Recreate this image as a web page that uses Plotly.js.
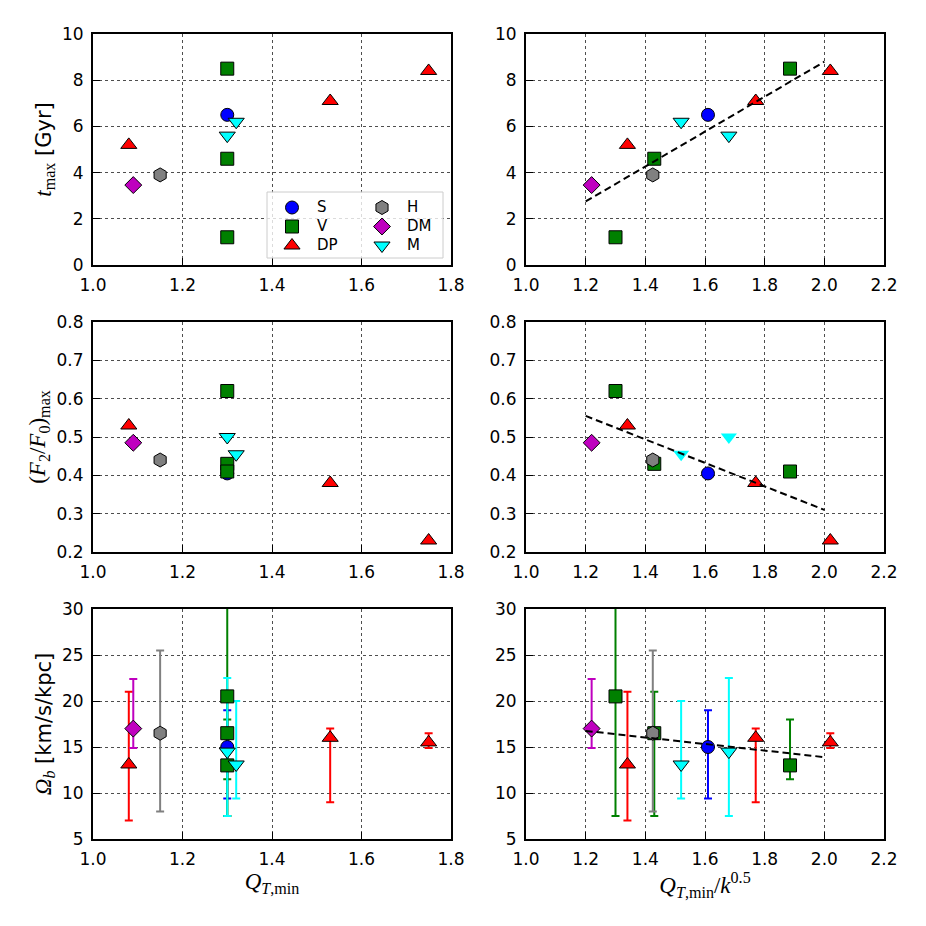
<!DOCTYPE html>
<html><head><meta charset="utf-8">
<script src="https://cdn.plot.ly/plotly-3.0.1.min.js"></script>
<style>html,body{margin:0;padding:0;background:#fff}</style>
</head><body><div id="chart" style="width:926px;height:926px"></div>
<script>
// ---------- data ----------
const groupNames = ['S', 'V', 'DP', 'H', 'DM', 'M'];

const S_qMin = [1.30],             S_qK = [1.61];
const S_tMax = [6.5],              S_f2 = [0.405];
const S_om = [15.0],               S_omUp = [4.0],  S_omDn = [5.6];

const V_qMin = [1.30, 1.30, 1.30], V_qK = [1.30, 1.43, 1.885];
const V_tMax = [1.2, 4.6, 8.5],    V_f2 = [0.62, 0.43, 0.41];
const V_om = [20.5, 16.5, 13.0],   V_omUp = [12.0, 4.5, 5.0], V_omDn = [13.0, 9.0, 1.5];

const DP_qMin = [1.08, 1.53, 1.75], DP_qK = [1.34, 1.77, 2.02];
const DP_tMax = [5.2, 7.1, 8.4],    DP_f2 = [0.53, 0.38, 0.23];
const DP_om = [13.1, 16.0, 15.5],   DP_omUp = [7.9, 1.0, 1.0], DP_omDn = [6.1, 7.0, 0.6];

const H_qMin = [1.15],  H_qK = [1.425];
const H_tMax = [3.9],   H_f2 = [0.44];
const H_om = [16.5],    H_omUp = [9.0], H_omDn = [8.5];

const DM_qMin = [1.09], DM_qK = [1.22];
const DM_tMax = [3.46], DM_f2 = [0.485];
const DM_om = [17.0],   DM_omUp = [5.4], DM_omDn = [2.1];

const M_qMin = [1.30, 1.32], M_qK = [1.68, 1.52];
const M_tMax = [5.6, 6.2],   M_f2 = [0.50, 0.455];
const M_om = [14.5, 13.1],   M_omUp = [8.0, 6.9], M_omDn = [7.0, 3.7];

// linear fits (right column)
const fitX = [1.2, 2.0];
const fitT = [2.75, 8.8];
const fitF = [0.555, 0.31];
const fitOm = [16.75, 13.9];

// axis ticks
const xTicksLeft = [1.0, 1.2, 1.4, 1.6, 1.8];
const xTicksRight = [1.0, 1.2, 1.4, 1.6, 1.8, 2.0, 2.2];
const yTicksT = [0, 2, 4, 6, 8, 10];
const yTicksF = [0.2, 0.3, 0.4, 0.5, 0.6, 0.7, 0.8];
const yTicksOm = [5, 10, 15, 20, 25, 30];

// ---------- styles ----------
const groups = [
  {name:'S',  color:'#0000ff', symbol:'circle',        size:13, qMin:S_qMin,  qK:S_qK,  t:S_tMax,  f:S_f2,  om:S_om,  up:S_omUp,  dn:S_omDn,  legend:'legend'},
  {name:'V',  color:'#008000', symbol:'square',        size:13, qMin:V_qMin,  qK:V_qK,  t:V_tMax,  f:V_f2,  om:V_om,  up:V_omUp,  dn:V_omDn,  legend:'legend'},
  {name:'DP', color:'#ff0000', symbol:'triangle-up',   size:14, qMin:DP_qMin, qK:DP_qK, t:DP_tMax, f:DP_f2, om:DP_om, up:DP_omUp, dn:DP_omDn, legend:'legend'},
  {name:'H',  color:'#808080', symbol:'hexagon',       size:14, qMin:H_qMin,  qK:H_qK,  t:H_tMax,  f:H_f2,  om:H_om,  up:H_omUp,  dn:H_omDn,  legend:'legend2'},
  {name:'DM', color:'#bf00bf', symbol:'diamond',       size:13, qMin:DM_qMin, qK:DM_qK, t:DM_tMax, f:DM_f2, om:DM_om, up:DM_omUp, dn:DM_omDn, legend:'legend2'},
  {name:'M',  color:'#00ffff', symbol:'triangle-down', size:14, qMin:M_qMin,  qK:M_qK,  t:M_tMax,  f:M_f2,  om:M_om,  up:M_omUp,  dn:M_omDn,  legend:'legend2'}
];

const traces = [];
function markerTrace(g, xs, ys, xa, ya, showLegend, noEdge) {
  return {
    type:'scatter', mode:'markers', x:xs, y:ys, xaxis:xa, yaxis:ya,
    name:'<span style="font-size:15px">' + g.name + '</span>', legend:g.legend, showlegend:showLegend, hoverinfo:'skip',
    marker:{symbol:g.symbol, size:g.size, color:g.color,
            line:{color:'#000', width: noEdge ? 0 : 1}}
  };
}
function errTrace(g, xs, xa, ya) {
  return {
    type:'scatter', mode:'markers', x:xs, y:g.om, xaxis:xa, yaxis:ya,
    showlegend:false, hoverinfo:'skip',
    marker:{size:1, opacity:0, color:g.color},
    error_y:{type:'data', symmetric:false, array:g.up, arrayminus:g.dn,
             color:g.color, thickness:2, width:4}
  };
}
function fitTrace(ys, xa, ya) {
  return {type:'scatter', mode:'lines', x:fitX, y:ys, xaxis:xa, yaxis:ya,
          showlegend:false, hoverinfo:'skip',
          line:{color:'#000', width:2, dash:'7px,4px'}};
}

// top row
groups.forEach(g => traces.push(markerTrace(g, g.qMin, g.t, 'x', 'y', true, false)));
groups.forEach(g => traces.push(markerTrace(g, g.qK, g.t, 'x2', 'y2', false, false)));
traces.push(fitTrace(fitT, 'x2', 'y2'));
// middle row
groups.forEach(g => traces.push(markerTrace(g, g.qMin, g.f, 'x3', 'y3', false, false)));
groups.forEach(g => traces.push(markerTrace(g, g.qK, g.f, 'x4', 'y4', false, g.name === 'M')));
traces.push(fitTrace(fitF, 'x4', 'y4'));
// bottom row
groups.forEach(g => traces.push(errTrace(g, g.qMin, 'x5', 'y5')));
groups.forEach(g => traces.push(markerTrace(g, g.qMin, g.om, 'x5', 'y5', false, false)));
groups.forEach(g => traces.push(errTrace(g, g.qK, 'x6', 'y6')));
groups.forEach(g => traces.push(markerTrace(g, g.qK, g.om, 'x6', 'y6', false, false)));
traces.push(fitTrace(fitOm, 'x6', 'y6'));

// ---------- layout ----------
const W = 926;
const colL = [93 / W, 451 / W], colR = [526 / W, 884 / W];
const rowT = [1 - 265 / W, 1 - 34 / W], rowM = [1 - 552 / W, 1 - 322 / W], rowB = [1 - 839 / W, 1 - 609 / W];

const tickFont = {family:'DejaVu Sans', size:17, color:'#000'};
const common = {
  showline:true, mirror:true, linecolor:'#000', linewidth:2,
  ticks:'inside', ticklen:7, tickwidth:1, tickcolor:'#000',
  showgrid:true, gridcolor:'#222', gridwidth:0.8, griddash:'3px,3px',
  zeroline:false, tickfont:tickFont, fixedrange:true, automargin:false
};
function xa(domain, anchor, range, ticks, title) {
  const o = Object.assign({}, common, {domain, anchor, range, tickmode:'array', tickvals:ticks,
    ticktext:ticks.map(v => v.toFixed(1)), ticklabelstandoff:4});
  if (title) o.title = {text:title, font:{family:'Liberation Serif, DejaVu Serif', size:23, color:'#000'}, standoff:3};
  return o;
}
function ya(domain, anchor, range, ticks, fmt, title) {
  const o = Object.assign({}, common, {domain, anchor, range, tickmode:'array', tickvals:ticks,
    ticktext:ticks.map(fmt), ticklabelstandoff:4});
  if (title) o.title = {text:title, font:{family:'DejaVu Sans', size:21, color:'#000'}, standoff:5};
  return o;
}
const fInt = v => String(v), f1 = v => v.toFixed(1);
const serif = 'font-family:Liberation Serif,DejaVu Serif;font-size:23px';

const legendFont = {family:'DejaVu Sans', size:11, color:'#000'};
const layout = {
  width:926, height:926, margin:{l:0, r:0, t:0, b:0},
  paper_bgcolor:'#fff', plot_bgcolor:'#fff', showlegend:true,
  xaxis:  xa(colL, 'y',  [1.0, 1.8], xTicksLeft),
  yaxis:  ya(rowT, 'x',  [0, 10], yTicksT, fInt, '<span style="' + serif + '"><i>t</i><sub>max</sub></span> [Gyr]'),
  xaxis2: xa(colR, 'y2', [1.0, 2.2], xTicksRight),
  yaxis2: ya(rowT, 'x2', [0, 10], yTicksT, fInt),
  xaxis3: xa(colL, 'y3', [1.0, 1.8], xTicksLeft),
  yaxis3: ya(rowM, 'x3', [0.2, 0.8], yTicksF, f1, '<span style="' + serif + '">(<i>F</i><sub>2</sub>/<i>F</i><sub>0</sub>)<sub>max</sub></span>'),
  xaxis4: xa(colR, 'y4', [1.0, 2.2], xTicksRight),
  yaxis4: ya(rowM, 'x4', [0.2, 0.8], yTicksF, f1),
  xaxis5: xa(colL, 'y5', [1.0, 1.8], xTicksLeft, '<i>Q</i><sub><i>T</i>,min</sub>'),
  yaxis5: ya(rowB, 'x5', [5, 30], yTicksOm, fInt, '<span style="' + serif + '"><i>Ω</i><sub><i>b</i></sub></span> [km/s/kpc]'),
  xaxis6: xa(colR, 'y6', [1.0, 2.2], xTicksRight, '<i>Q</i><sub><i>T</i>,min</sub>/<i>k</i><sup>0.5</sup>'),
  yaxis6: ya(rowB, 'x6', [5, 30], yTicksOm, fInt),
  legend:  {x:267 / W, y:1 - 193 / W, xanchor:'left', yanchor:'top', bgcolor:'rgba(0,0,0,0)', borderwidth:0,
            font:legendFont, tracegroupgap:0, itemwidth:40},
  legend2: {x:357 / W, y:1 - 193 / W, xanchor:'left', yanchor:'top', bgcolor:'rgba(0,0,0,0)', borderwidth:0,
            font:legendFont, tracegroupgap:0, itemwidth:40},
  shapes: [{type:'rect', xref:'paper', yref:'paper', layer:'above',
            x0:267 / W, x1:443 / W, y0:1 - 258 / W, y1:1 - 192 / W,
            line:{color:'#cccccc', width:1}, fillcolor:'rgba(255,255,255,0.8)'}]
};

Plotly.newPlot('chart', traces, layout, {staticPlot:true, displayModeBar:false});
</script>
</body></html>
